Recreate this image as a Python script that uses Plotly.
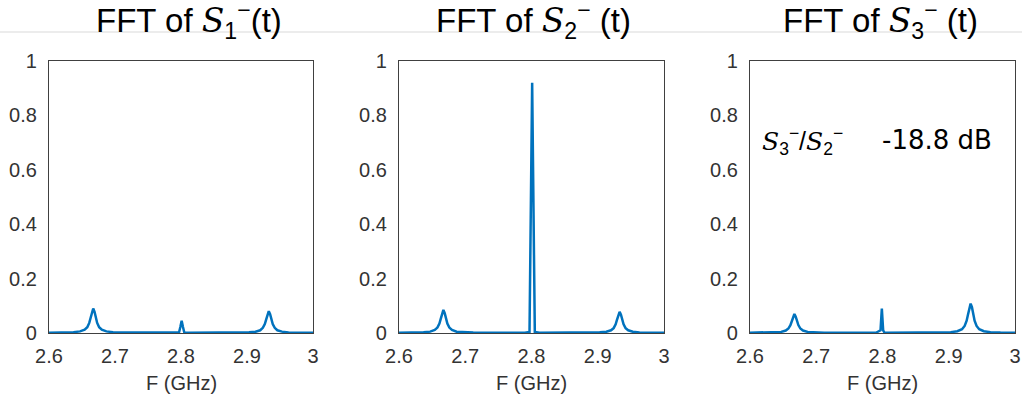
import plotly.graph_objects as go

# Frequency grid (GHz) shared by the three spectra
freq = [2.600, 2.622, 2.637, 2.647, 2.654, 2.658, 2.661, 2.663, 2.665, 2.667,
        2.669, 2.671, 2.673, 2.676, 2.680, 2.687, 2.697, 2.712, 2.740, 2.770,
        2.790, 2.797, 2.799, 2.801, 2.803, 2.805, 2.812, 2.840, 2.870, 2.888,
        2.903, 2.913, 2.920, 2.924, 2.927, 2.929, 2.931, 2.933, 2.935, 2.937,
        2.939, 2.942, 2.946, 2.953, 2.963, 2.978, 3.000]

# |FFT| of S1-(t)
mag_s1 = [0.001, 0.0015, 0.003, 0.006, 0.012, 0.021, 0.037, 0.055, 0.078, 0.090,
          0.078, 0.055, 0.037, 0.021, 0.012, 0.006, 0.003, 0.0015, 0.001, 0.0008,
          0.0008, 0.002, 0.022, 0.045, 0.022, 0.002, 0.0008, 0.0008, 0.001, 0.0015,
          0.003, 0.005, 0.010, 0.019, 0.033, 0.049, 0.069, 0.080, 0.069, 0.049,
          0.033, 0.019, 0.010, 0.005, 0.002, 0.0012, 0.0008]

# |FFT| of S2-(t)
mag_s2 = [0.001, 0.0015, 0.0025, 0.005, 0.011, 0.020, 0.035, 0.052, 0.073, 0.085,
          0.073, 0.052, 0.035, 0.020, 0.011, 0.005, 0.0025, 0.0015, 0.001, 0.0008,
          0.0008, 0.004, 0.46, 0.92, 0.46, 0.004, 0.0008, 0.0008, 0.001, 0.0015,
          0.0025, 0.0046, 0.010, 0.018, 0.032, 0.048, 0.067, 0.078, 0.067, 0.048,
          0.032, 0.018, 0.010, 0.0046, 0.002, 0.0012, 0.0008]

# |FFT| of S3-(t)
mag_s3 = [0.001, 0.0012, 0.002, 0.0041, 0.009, 0.0165, 0.029, 0.043, 0.060, 0.070,
          0.060, 0.043, 0.029, 0.0165, 0.009, 0.0041, 0.002, 0.0012, 0.0008, 0.0008,
          0.001, 0.010, 0.090, 0.010, 0.001, 0.0008, 0.0008, 0.0008, 0.001, 0.0018,
          0.003, 0.0065, 0.014, 0.026, 0.045, 0.067, 0.095, 0.108, 0.095, 0.067,
          0.045, 0.026, 0.014, 0.0065, 0.003, 0.0015, 0.001]

x_ticks = [2.6, 2.7, 2.8, 2.9, 3.0]
x_ticktext = ["2.6", "2.7", "2.8", "2.9", "3"]
y_ticks = [0, 0.2, 0.4, 0.6, 0.8, 1.0]
y_ticktext = ["0", "0.2", "0.4", "0.6", "0.8", "1"]

SERIF = "font-family:'DejaVu Serif';font-style:italic"
titles = [
    f"FFT of <span style=\"{SERIF}\">S</span><sub>1</sub><sup>−</sup>(t)",
    f"FFT of <span style=\"{SERIF}\">S</span><sub>2</sub><sup>−</sup> (t)",
    f"FFT of <span style=\"{SERIF}\">S</span><sub>3</sub><sup>−</sup> (t)",
]
ratio_label = (f"<span style=\"{SERIF}\">S</span><sub>3</sub><sup>−</sup>/"
               f"<span style=\"{SERIF}\">S</span><sub>2</sub><sup>−</sup>")
ratio_value = "-18.8 dB"

W, H = 1022, 400
panels_px = [(49, 313), (399, 664), (750, 1015)]
y0_px, y1_px = 333, 61

fig = go.Figure()
series = [mag_s1, mag_s2, mag_s3]
axis_font = dict(family="Liberation Sans", size=20, color="#333333")

for i, (mags, (xl, xr)) in enumerate(zip(series, panels_px)):
    n = "" if i == 0 else str(i + 1)
    fig.add_trace(go.Scatter(x=freq, y=mags, mode="lines",
                             line=dict(color="#0072BD", width=2.5),
                             xaxis="x" + n, yaxis="y" + n, showlegend=False,
                             hoverinfo="skip"))
    fig.update_layout(**{
        "xaxis" + n: dict(domain=[xl / W, xr / W], range=[2.6, 3.0],
                          anchor="y" + n, tickvals=x_ticks, ticktext=x_ticktext,
                          showgrid=False, zeroline=False, showline=True,
                          mirror=True, linecolor="#404040", linewidth=1.3,
                          ticks="outside", ticklen=5, tickcolor="rgba(0,0,0,0)",
                          tickfont=axis_font, fixedrange=True, automargin=False),
        "yaxis" + n: dict(domain=[(H - y0_px) / H, (H - y1_px) / H], range=[0, 1],
                          anchor="x" + n, tickvals=y_ticks, ticktext=y_ticktext,
                          showgrid=False, zeroline=False, showline=True,
                          mirror=True, linecolor="#404040", linewidth=1.3,
                          ticks="outside", ticklen=7, tickcolor="rgba(0,0,0,0)",
                          tickfont=axis_font, fixedrange=True, automargin=False),
    })
    # x-axis title
    fig.add_annotation(text="F (GHz)", x=(xl + xr) / 2 / W, y=(H - 383) / H,
                       xref="paper", yref="paper", showarrow=False,
                       xanchor="center", yanchor="middle",
                       font=dict(family="Liberation Sans", size=20, color="#333333"))

title_centers = [189, 533, 880]
for t, cx in zip(titles, title_centers):
    fig.add_annotation(text=t, x=cx / W, y=(H - 20) / H, xref="paper", yref="paper",
                       showarrow=False, xanchor="center", yanchor="middle",
                       font=dict(family="Liberation Sans", size=33, color="#000000"))

fig.add_annotation(text=ratio_label, x=760 / W, y=(H - 141) / H, xref="paper",
                   yref="paper", showarrow=False, xanchor="left", yanchor="middle",
                   font=dict(family="Liberation Sans", size=25, color="#000000"))
fig.add_annotation(text=ratio_value, x=880 / W, y=(H - 140) / H, xref="paper",
                   yref="paper", showarrow=False, xanchor="left", yanchor="middle",
                   font=dict(family="DejaVu Sans", size=26, color="#000000"))

fig.add_shape(type="line", xref="paper", yref="paper", x0=0, x1=1,
              y0=(H - 32) / H, y1=(H - 32) / H, layer="below",
              line=dict(color="#d9d9d9", width=1))

fig.update_layout(width=W, height=H, margin=dict(l=0, r=0, t=0, b=0),
                  paper_bgcolor="white", plot_bgcolor="white")

fig.write_html("out.html", config={"displayModeBar": False},
               post_script="document.body.style.margin='0';"
                           "document.body.style.overflow='hidden';")
